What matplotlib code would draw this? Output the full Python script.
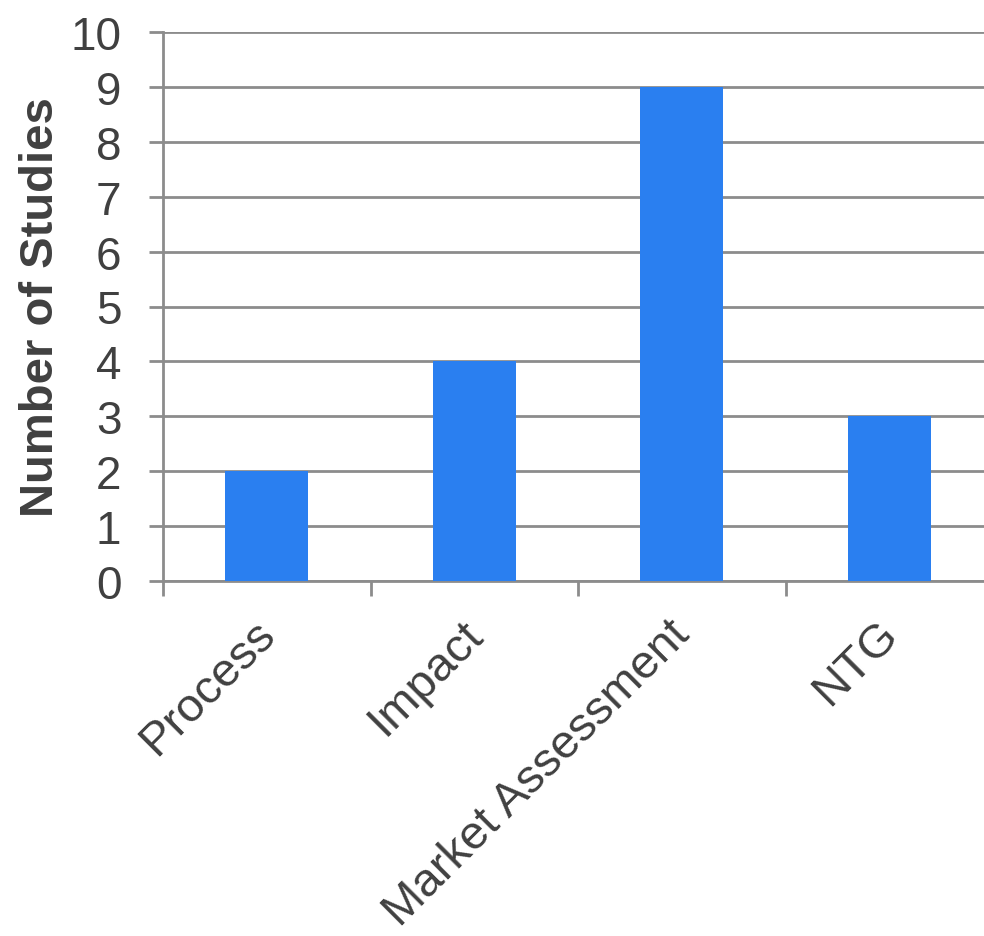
import matplotlib
matplotlib.use("Agg")
import matplotlib.pyplot as plt
import matplotlib.transforms as mtransforms
import numpy as np

categories = ["Process", "Impact", "Market Assessment", "NTG"]
counts = [2, 4, 9, 3]
yticks = list(range(0, 11))

plt.rcParams["font.family"] = ["Liberation Sans", "DejaVu Sans"]

text_color = "#404040"
grid_color = "#8c8c8c"
bar_color = "#2a7ff0"

fig = plt.figure(figsize=(9.84, 9.37), dpi=100)
ax = fig.add_axes([163 / 984, 1 - 582 / 937, 830 / 984, (582 - 33) / 937])

x = np.arange(len(categories))
ax.bar(x, counts, width=0.4, color=bar_color, zorder=3)

ax.set_xlim(-0.5, len(categories) - 0.5)
ax.set_ylim(0, 10)
ax.set_yticks(yticks)
ax.set_yticklabels([str(v) for v in yticks])
ax.yaxis.grid(True, color=grid_color, linewidth=2, zorder=0)
ax.tick_params(axis="y", length=10, width=2, color=grid_color, pad=20,
               labelsize=33, labelcolor=text_color)

# category ticks sit on the boundaries between groups
ax.set_xticks(np.arange(-0.5, len(categories) - 0.4, 1.0))
ax.set_xticklabels([])
ax.set_xticks(x, minor=True)
ax.set_xticklabels(categories, minor=True, rotation=45, ha="right",
                   va="top", rotation_mode="anchor")
ax.tick_params(axis="x", which="major", length=11, width=2, color=grid_color)
ax.tick_params(axis="x", which="minor", length=0, pad=22, labelsize=34,
               labelcolor=text_color)
shift = mtransforms.ScaledTranslation(-14 / 100, 0, fig.dpi_scale_trans)
for lbl in ax.get_xticklabels(minor=True):
    lbl.set_transform(lbl.get_transform() + shift)

for side in ["top", "right"]:
    ax.spines[side].set_visible(False)
for side in ["left", "bottom"]:
    ax.spines[side].set_color(grid_color)
    ax.spines[side].set_linewidth(2)

ax.set_ylabel("Number of Studies", fontsize=34, fontweight="bold",
              color=text_color)
ax.yaxis.set_label_coords(-(163 - 63) / 830, 0.5)

fig.savefig("out.png", dpi=100)
